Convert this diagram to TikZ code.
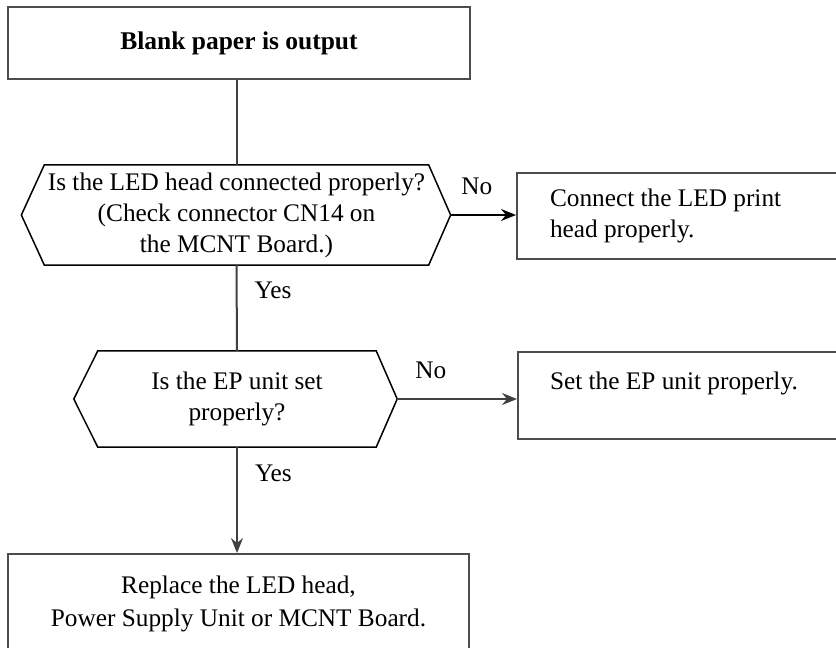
\documentclass[tikz,border=0pt]{standalone}
\usepackage{fontspec}
\setmainfont{Liberation Serif}
\usetikzlibrary{arrows.meta}
\tikzset{
  box/.style={draw=black!70,line width=2pt},
  hexline/.style={draw=black,line width=1.5pt},
  conn/.style={draw=black!75,line width=2pt},
  lbl/.style={inner sep=0pt}
}
\begin{document}
\begin{tikzpicture}[x=1pt,y=-1pt,font=\fontsize{25.3}{31}\selectfont,
  >={Stealth[length=15pt,width=12pt,inset=5pt]}]
  \useasboundingbox (0,0) rectangle (836,648);
  \clip (0,0) rectangle (836,648);
  % boxes
  \node[box,minimum width=462pt,minimum height=72pt,font=\fontsize{25.5}{31}\selectfont\bfseries] (start) at (239,43) {Blank paper is output};
  \node[box,anchor=west,align=flush left,text width=330pt,inner xsep=33pt,minimum height=86pt] (fix1) at (516,216) {Connect the LED print\\head properly.};
  \node[box,anchor=north west,align=flush left,text width=330pt,inner xsep=32pt,minimum height=87pt] (fix2) at (517,351) {\rule{0pt}{28pt}Set the EP unit properly.\\\strut};
  \node[box,minimum width=461pt,minimum height=100pt,align=center,font=\fontsize{25.3}{33}\selectfont] (fix3) at (238.5,604) {Replace the LED head,\\Power Supply Unit or MCNT Board.};
  % questions
  \node[align=center,minimum width=383pt,minimum height=100pt] (q1) at (236.5,215) {Is the LED head connected properly?\\(Check connector CN14 on\\the MCNT Board.)};
  \coordinate (q1l) at ([xshift=-23pt]q1.west);
  \coordinate (q1r) at ([xshift=22pt]q1.east);
  \draw[hexline] (q1.north west) -- (q1.north east) -- (q1r) -- (q1.south east) -- (q1.south west) -- (q1l) -- cycle;
  \node[align=center,minimum width=278pt,minimum height=96pt] (q2) at (237,399) {Is the EP unit set\\properly?};
  \coordinate (q2l) at ([xshift=-24pt]q2.west);
  \coordinate (q2r) at ([xshift=21pt]q2.east);
  \draw[hexline] (q2.north west) -- (q2.north east) -- (q2r) -- (q2.south east) -- (q2.south west) -- (q2l) -- cycle;
  % connectors
  \draw[conn] (start.south -| q1.north) -- (q1.north);
  \draw[conn] (q1.south) -- (q2.north) node[lbl,pos=.29,right=17pt] (yes1) {Yes};
  \draw[conn,->] (q2.south) -- (q2.south |- fix3.north) node[lbl,pos=.25,right=17pt] (yes2) {Yes};
  \draw[conn,black,->] (q1r) -- (q1r -| fix1.west) node[lbl,pos=.4,above=19pt] (no1) {No};
  \draw[conn,->] (q2r) -- (q2r -| fix2.west) node[lbl,pos=.28,above=19pt] (no2) {No};
\end{tikzpicture}
\end{document}
